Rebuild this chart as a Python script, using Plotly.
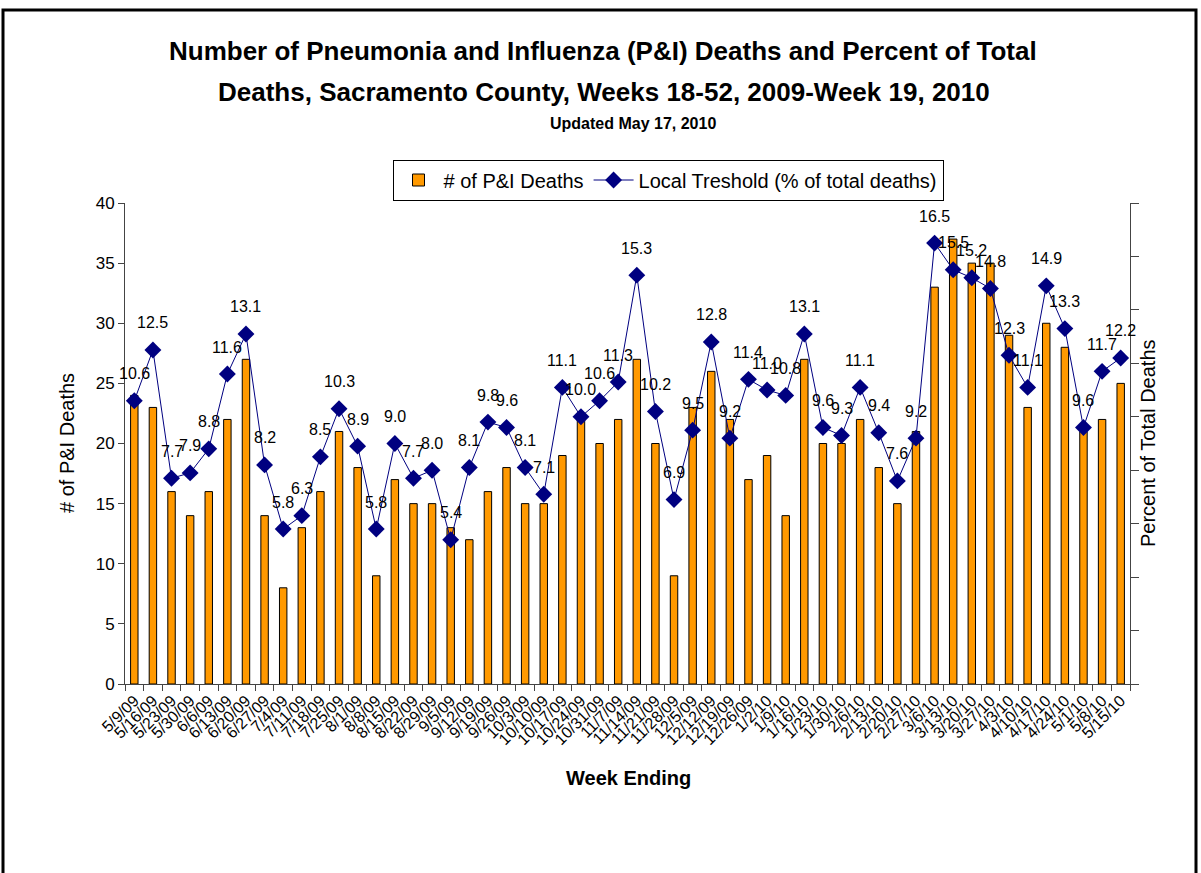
import plotly.graph_objects as go

weeks = ["5/9/09","5/16/09","5/23/09","5/30/09","6/6/09","6/13/09","6/20/09","6/27/09",
         "7/4/09","7/11/09","7/18/09","7/25/09","8/1/09","8/8/09","8/15/09","8/22/09","8/29/09",
         "9/5/09","9/12/09","9/19/09","9/26/09","10/3/09","10/10/09","10/17/09","10/24/09","10/31/09",
         "11/7/09","11/14/09","11/21/09","11/28/09","12/5/09","12/12/09","12/19/09","12/26/09",
         "1/2/10","1/9/10","1/16/10","1/23/10","1/30/10","2/6/10","2/13/10","2/20/10","2/27/10",
         "3/6/10","3/13/10","3/20/10","3/27/10","4/3/10","4/10/10","4/17/10","4/24/10",
         "5/1/10","5/8/10","5/15/10"]

pi_deaths = [24,23,16,14,16,22,27,14,8,13,16,21,18,9,17,15,15,13,12,16,18,15,15,19,22,20,
             22,27,20,9,23,26,22,17,19,14,27,20,20,22,18,15,21,33,37,35,35,29,23,30,28,21,22,25]

pct_total = [10.6,12.5,7.7,7.9,8.8,11.6,13.1,8.2,5.8,6.3,8.5,10.3,8.9,5.8,9.0,7.7,8.0,5.4,8.1,
             9.8,9.6,8.1,7.1,11.1,10.0,10.6,11.3,15.3,10.2,6.9,9.5,12.8,9.2,11.4,11.0,10.8,13.1,
             9.6,9.3,11.1,9.4,7.6,9.2,16.5,15.5,15.2,14.8,12.3,11.1,14.9,13.3,9.6,11.7,12.2]

left_ticks = [0,5,10,15,20,25,30,35,40]

L, R, T, B = 125, 1130, 203, 684
W, H = 1201, 873
def px(x): return (x - L) / (R - L)
def py(y): return (B - y) / (B - T)

FONT = "Liberation Sans, Arial, sans-serif"

fig = go.Figure()
fig.add_trace(go.Bar(
    x=weeks, y=pi_deaths, name="# of P&I Deaths",
    marker=dict(color="#FF9900", line=dict(color="black", width=1)),
    yaxis="y",
))
fig.add_trace(go.Scatter(
    x=weeks, y=pct_total, name="Local Treshold (% of total deaths)",
    mode="lines+markers",
    line=dict(color="#000080", width=1),
    marker=dict(symbol="diamond", size=13, color="#000080"),
    yaxis="y2",
))

label_annotations = [
    dict(x=w, y=v, xref="x", yref="y2", text=f"{v:.1f}", showarrow=False,
         xanchor="center", yanchor="middle",
         yshift=27, font=dict(family=FONT, size=16, color="black"))
    for w, v in zip(weeks, pct_total)
]

def note(text, x, y, size, angle=0):
    return dict(text=text, x=px(x), y=py(y), xref="paper", yref="paper", showarrow=False,
                xanchor="center", yanchor="middle", textangle=angle,
                font=dict(family=FONT, size=size, color="black"))

fig.update_layout(
    width=W, height=H,
    margin=dict(l=L, r=W - R, t=T, b=H - B),
    paper_bgcolor="white", plot_bgcolor="white",
    font=dict(family=FONT, size=16, color="black"),
    bargap=0.6,
    showlegend=True,
    legend=dict(orientation="h", x=px(668), xanchor="center", y=py(180), yanchor="middle",
                bordercolor="black", borderwidth=1, bgcolor="white",
                font=dict(family=FONT, size=20), itemwidth=40, tracegroupgap=0),
    xaxis=dict(type="category", range=[-0.5, len(weeks) - 0.5], tickangle=-45,
               tickmode="linear", tick0=0, dtick=1,
               tickson="boundaries", ticks="outside", ticklen=6, tickcolor="#444",
               showline=True, linecolor="#444", linewidth=1, showgrid=False,
               tickfont=dict(family=FONT, size=16)),
    yaxis=dict(range=[0, 40], tickvals=left_ticks, ticks="outside", ticklen=6,
               tickcolor="#444", showline=True, linecolor="#444", linewidth=1,
               showgrid=False, zeroline=False, tickfont=dict(family=FONT, size=17)),
    yaxis2=dict(range=[0, 18], dtick=2, overlaying="y", side="right", ticks="outside",
                ticklen=8, tickcolor="#444", showline=True, linecolor="#444", linewidth=1,
                showticklabels=False, showgrid=False, zeroline=False),
    annotations=label_annotations + [
        note("<b>Number of Pneumonia and Influenza (P&I) Deaths and Percent of Total</b>", 603, 51, 26),
        note("<b>Deaths, Sacramento County, Weeks 18-52, 2009-Week 19, 2010</b>", 604, 92, 26),
        note("<b>Updated May 17, 2010</b>", 633, 123, 16),
        note("# of P&I Deaths", 67, 443, 20, -90),
        note("Percent of Total Deaths", 1148, 443, 20, -90),
        note("<b>Week Ending</b>", 628, 778, 20),
    ],
    shapes=[
        dict(type="rect", xref="paper", yref="paper",
             x0=px(3), x1=px(1196), y0=py(950), y1=py(10),
             line=dict(color="black", width=3), fillcolor="rgba(0,0,0,0)", layer="below"),
    ],
)

fig.write_html("out.html", config={"displayModeBar": False},
               post_script="document.body.style.margin='0px';document.body.style.overflow='hidden';")
